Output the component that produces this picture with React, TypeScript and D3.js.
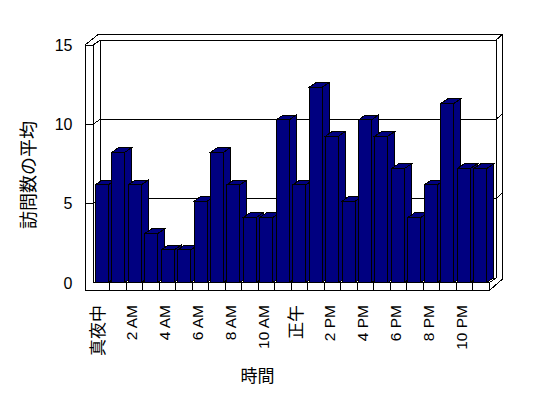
import React from "react";
import * as d3 from "d3";

// ---- data ----
const categories = [0, 1, 2, 3, 4, 5, 6, 7, 8, 9, 10, 11, 12, 13, 14, 15, 16, 17, 18, 19, 20, 21, 22, 23];
const values = [6, 8, 6, 3, 2, 2, 5, 8, 6, 4, 4, 10, 6, 12, 9, 5, 10, 9, 7, 4, 6, 11, 7, 7];
const tickLabels = ["真夜中", "2 AM", "4 AM", "6 AM", "8 AM", "10 AM", "正午", "2 PM", "4 PM", "6 PM", "8 PM", "10 PM"];
const tickEvery = 2;
const yTicks = [0, 5, 10, 15];
const yTitle = "訪問数の平均";
const xTitle = "時間";

const FONT = "'Liberation Sans', Arial, 'Noto Sans CJK JP', sans-serif";
const JFONT = "'Noto Sans CJK JP', 'Liberation Sans', sans-serif";

export default function App() {
  const W = 548, H = 398;
  const plotL = 93, plotR = 489, base = 282.9, top = 45;
  const wallT = 8; // left wall / floor thickness
  const dx = 7, dy = 4.8; // plot depth
  const tx = 6, ty = 5.5; // back wall thickness

  const xCat = d3.scaleBand<number>().domain(categories).range([plotL, plotR]);
  const xBar = d3.scaleBand<number>().domain(categories).range([plotL, plotR]).paddingInner(0.21).paddingOuter(0.14);
  const yWall = d3.scaleLinear().domain([0, 15]).range([base, top]);
  const yBar = d3.scaleLinear().domain([0, 15]).range([282.5, 282.5 - 15 * 16.27]);

  const L = plotL - wallT; // outer left
  const B = base + wallT; // outer bottom
  const line = d3.line();

  const stroke = { stroke: "#000", strokeWidth: 1, fill: "none" } as const;

  // frame
  const frontFace = line([[L, top], [plotL, top], [plotL, base], [plotR, base], [plotR, B], [L, B]]) + "Z";
  const outer = line([[L, top], [L + dx + tx, top - dy - ty], [plotR + dx + tx, top - dy - ty], [plotR + dx + tx, B - 11.5], [plotR, B]]);
  const inner = line([[plotL, top], [plotL + dx, top - dy], [plotR + dx, top - dy], [plotR + dx, base - dy], [plotR, base]]);
  const topRight = line([[plotR + dx, top - dy], [plotR + dx + tx, top - dy - ty]]);
  const backLeft = line([[plotL + dx, top - dy], [plotL + dx, base - dy], [plotR + dx, base - dy]]);

  const grid = yTicks.filter((v) => v > 0 && v < 15).map((v) => {
    const y = yWall(v);
    return line([[L, y], [plotL, y], [plotL + dx, y - dy], [plotR + dx, y - dy], [plotR + dx + tx, y - dy - ty]]);
  });

  const bw = xBar.bandwidth();

  return (
    <svg width={W} height={H} style={{ position: "absolute", left: 0, top: 0, background: "#fff" }}>
      <g shapeRendering="crispEdges">
        <path d={frontFace} fill="#fff" stroke="#000" />
        <path d={outer} {...stroke} />
        <path d={inner} {...stroke} />
        <path d={topRight} {...stroke} />
        <path d={backLeft} {...stroke} />
        {grid.map((d, i) => (
          <path key={"g" + i} d={d!} {...stroke} />
        ))}
        {categories.slice(1).map((c) => (
          <line key={"s" + c} x1={xCat(c)!} x2={xCat(c)!} y1={base} y2={B} stroke="#000" />
        ))}
        {categories.map((c, i) => {
          const x = xBar(c)!;
          const y0 = yBar(0);
          const y1 = yBar(values[i]);
          const front = line([[x, y1], [x + bw, y1], [x + bw, y0], [x, y0]]) + "Z";
          const side = line([[x + bw, y1], [x + bw + dx, y1 - dy], [x + bw + dx, y0 - dy], [x + bw, y0]]) + "Z";
          const topF = line([[x, y1], [x + dx, y1 - dy], [x + bw + dx, y1 - dy], [x + bw, y1]]) + "Z";
          return (
            <g key={"b" + c} fill="#000080" stroke="#000" strokeWidth={1}>
              <path d={side} />
              <path d={topF} />
              <path d={front} />
            </g>
          );
        })}
      </g>
      {yTicks.map((v) => (
        <text key={"t" + v} x={72.5} y={yWall(v)} dy="0.36em" textAnchor="end" fontFamily={FONT} fontSize={16} fill="#000">
          {v}
        </text>
      ))}
      {tickLabels.map((t, k) => {
        const c = categories[k * tickEvery];
        const cx = xCat(c)! + xCat.bandwidth() / 2 - 3;
        const isLatin = /[A-Z0-9]/.test(t);
        return (
          <text
            key={"x" + k}
            transform={`translate(${cx},305) rotate(-90)`}
            dy="0.36em"
            textAnchor="end"
            fontFamily={isLatin ? FONT : JFONT}
            fontSize={isLatin ? 15.5 : 17}
            fill="#000"
          >
            {t}
          </text>
        );
      })}
      <text transform="translate(29,175) rotate(-90)" dy="0.36em" textAnchor="middle" fontFamily={JFONT} fontSize={18} fill="#000">
        {yTitle}
      </text>
      <text x={257.5} y={375.5} dy="0.36em" textAnchor="middle" fontFamily={JFONT} fontSize={17} fill="#000">
        {xTitle}
      </text>
    </svg>
  );
}
